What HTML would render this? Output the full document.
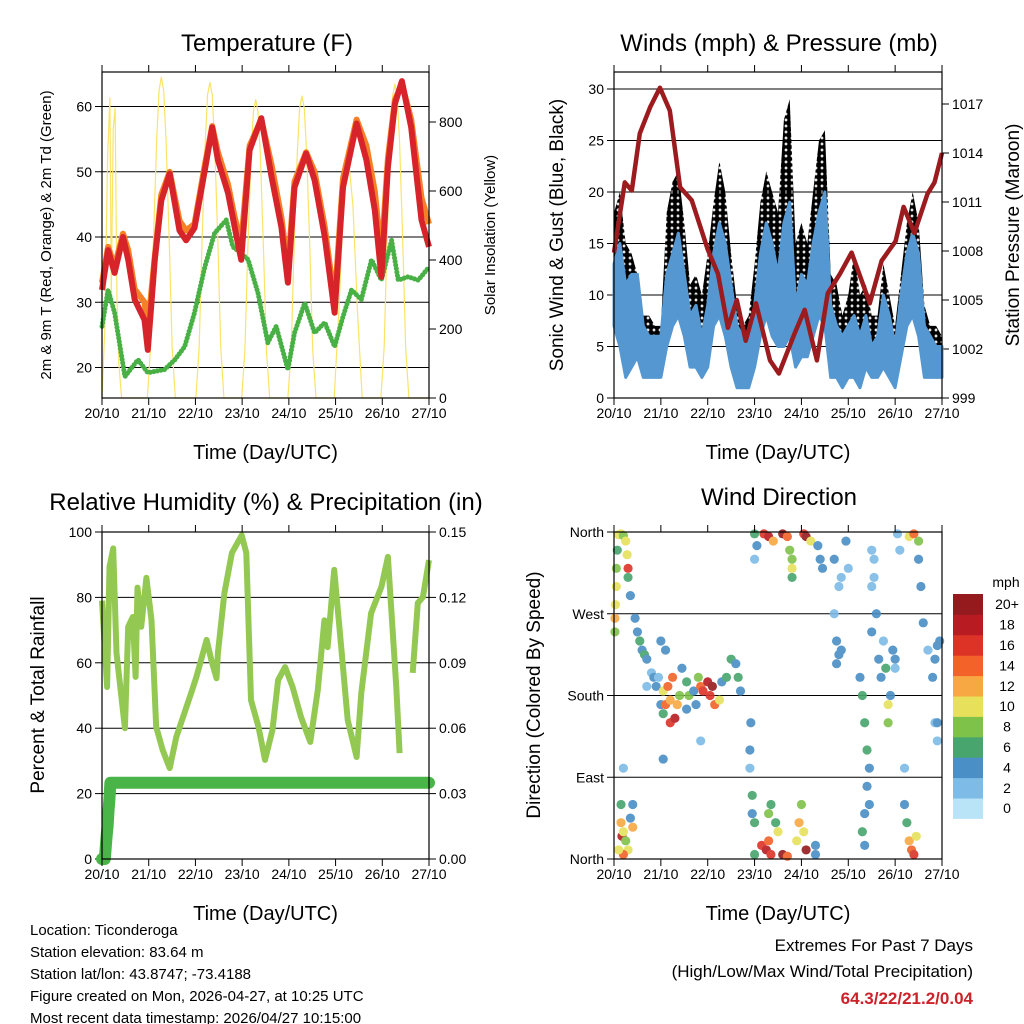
<!DOCTYPE html>
<html><head><meta charset="utf-8"><style>
html,body{margin:0;padding:0;background:#fff;}
svg{display:block;font-family:"Liberation Sans",sans-serif;}
</style></head><body>
<svg id="chart" width="1024" height="1024" viewBox="0 0 1024 1024" xmlns="http://www.w3.org/2000/svg">
<defs>
<pattern id="gustdots" patternUnits="userSpaceOnUse" width="6" height="6">
<circle cx="3" cy="3" r="3.1" fill="#000"/>
</pattern>
</defs>
</svg>
<script>
// ---------- DATA ----------
const dayLabels = ["20/10","21/10","22/10","23/10","24/10","25/10","26/10","27/10"];
// Temperature (F)
const tempT = [0,0.13,0.27,0.45,0.56,0.7,0.91,0.98,1.13,1.27,1.45,1.66,1.8,1.98,2.2,2.36,2.48,2.7,2.84,2.98,3.16,3.41,3.63,3.84,3.98,4.12,4.37,4.55,4.77,4.98,5.16,5.45,5.66,5.84,5.98,6.12,6.27,6.42,6.62,6.84,7.0];
const tempRed = [31.9,38,34.5,40,36.5,30.4,27.3,22.7,36.5,45.6,49.7,41,39.5,41.4,50.2,56.8,51.8,46.7,41.5,36.5,53.3,58.2,49.2,41.5,33,47.6,52.8,48.7,40,28.4,47.6,57.4,51.8,44.1,33.9,50.7,60.4,63.9,56.8,42.6,38.5];
const tempOrange = [33,38.5,35.5,40.5,38,32,30,26,37,46.5,50,42.5,41,42,51,57,53,48,43,39,54,58,51,43,35,48.5,53,50,41.5,30,49,58,54,47,37,52,61,63.5,58,46,42];
const dewT = [0,0.13,0.27,0.49,0.77,0.98,1.34,1.56,1.77,1.98,2.2,2.41,2.66,2.8,2.98,3.13,3.34,3.55,3.73,3.98,4.12,4.34,4.55,4.77,4.98,5.16,5.34,5.55,5.77,5.98,6.2,6.34,6.55,6.77,7.0];
const dewVals = [26.3,31.9,28.4,18.6,21.2,19.2,19.7,21.2,23.2,28.4,35.4,40.6,42.6,38.5,37.5,36.5,31.4,23.8,26.3,19.7,25.3,29.9,25.3,26.9,23.2,27.8,31.9,30.4,36.5,33.4,39.5,33.4,33.9,33.4,35.4];
const solarT = [0,0.06,0.12,0.17,0.2,0.24,0.28,0.32,0.36,0.42,0.5,0.97,1.04,1.1,1.17,1.22,1.27,1.32,1.37,1.44,1.5,1.57,2.01,2.08,2.14,2.21,2.26,2.31,2.36,2.41,2.48,2.54,2.61,2.99,3.06,3.12,3.19,3.24,3.29,3.34,3.39,3.46,3.52,3.59,3.98,4.05,4.11,4.18,4.23,4.28,4.33,4.38,4.45,4.51,4.58,4.97,5.07,5.17,5.27,5.37,5.47,5.57,5.97,6.04,6.1,6.17,6.22,6.27,6.32,6.37,6.44,6.5,6.57,7.0];
const solarV = [0,200,700,870,300,780,840,300,100,0,0,0,150,450,750,890,930,890,750,450,150,0,0,150,450,740,880,915,880,740,450,150,0,0,140,420,700,830,865,830,700,420,140,0,0,140,430,710,840,875,840,710,430,140,0,0,250,560,700,560,250,0,0,150,450,740,875,910,875,740,450,150,0,0];
// Winds (mph) & pressure (mb), 3-hourly
const windT = [0,0.125,0.25,0.375,0.5,0.625,0.75,0.875,1,1.125,1.25,1.375,1.5,1.625,1.75,1.875,2,2.125,2.25,2.375,2.5,2.625,2.75,2.875,3,3.125,3.25,3.375,3.5,3.625,3.75,3.875,4,4.125,4.25,4.375,4.5,4.625,4.75,4.875,5,5.125,5.25,5.375,5.5,5.625,5.75,5.875,6,6.125,6.25,6.375,6.5,6.625,6.75,6.875,7];
const windHi = [13,15,11,12,12,7,6,6,6,12,14,16,12,8,9,6,9,14,17,15,11,7,6,6,9,14,17,15,12,17,19,9,12,11,15,18,20,9,7,6,7,8,6,8,5,6,10,8,5,10,14,16,14,7,6,5,5];
const windLo = [7,5,2,3,4,2,2,2,2,5,7,8,6,3,3,2,3,7,8,6,3,1,1,1,3,6,8,6,5,5,6,3,4,4,6,8,7,2,2,1,2,2,1,3,2,2,3,2,1,4,7,8,6,2,2,2,2];
const gustVals = [18,20,15,14,12,8,8,7,7,18,21,22,17,11,12,10,14,19,23,20,14,9,7,8,13,19,22,20,18,27,29,15,17,15,20,25,26,12,11,8,10,14,10,11,8,8,13,10,7,12,17,20,17,9,7,7,6];
const presT = [0,0.23,0.38,0.55,0.77,0.98,1.19,1.41,1.66,2.0,2.22,2.43,2.62,2.81,3.03,3.33,3.52,3.86,4.07,4.33,4.56,4.82,5.07,5.46,5.71,6.01,6.18,6.41,6.69,6.84,7.0];
const presVals = [1007.9,1012.2,1011.7,1015.2,1016.8,1018,1016.6,1011.9,1011.1,1008.1,1006.6,1003.3,1005,1002.5,1004.8,1001.3,1000.5,1003,1004.4,1001.3,1005.4,1006.6,1007.9,1004.8,1007.4,1008.6,1010.7,1009.1,1011.5,1012.2,1014];
// Relative humidity & precip
const rhT = [0,0.11,0.16,0.24,0.31,0.49,0.56,0.66,0.72,0.76,0.84,0.95,1.06,1.16,1.3,1.45,1.59,1.91,1.91,2.02,2.24,2.34,2.45,2.48,2.62,2.78,2.99,3.09,3.19,3.35,3.49,3.65,3.77,3.92,4.08,4.26,4.46,4.62,4.76,4.83,4.97,5.12,5.26,5.45,5.55,5.76,5.98,6.12,6.3,6.37];
const rhVals = [79,52.6,89.3,95,63,40,71,74,55.7,83,71,86,73,40.4,33.3,27.8,37.3,50.8,50.8,55.7,67,60.9,55.3,63,81.3,93.6,99,93.6,48.6,40.4,30.3,39.5,54.7,58.7,52.6,43.4,35.8,51.7,73,64.8,88.4,64.8,42.5,31.2,50.8,75.2,83.2,92.4,52.6,32.4];
const rh2T = [6.65,6.76,6.87,7.0];
const rh2Vals = [56.9,78.3,80.1,91.4];
const precipT = [0,0.03,0.06,0.1,0.12,0.14,0.16,0.18,1,2,3,4,5,6,7];
const precipVals = [0,0,0,0.011,0.015,0.022,0.028,0.035,0.035,0.035,0.035,0.035,0.035,0.035,0.035];
// Wind direction scatter: time (days), direction (deg), speed (mph)
const dirT = [0.02,0.02,0.03,0.05,0.05,0.07,0.1,0.15,0.2,0.25,0.28,0.3,0.3,0.35,0.45,0.5,0.55,0.6,0.65,0.7,0.8,0.85,0.9,0.15,0.15,0.17,0.2,0.25,0.3,0.35,0.4,0.4,0.2,0.1,0.2,1.0,1.05,1.05,1.1,1.15,1.2,1.2,1.3,1.35,1.25,1.4,1.45,1.55,1.6,1.55,1.7,1.75,1.8,1.85,1.9,2.0,2.1,2.05,2.15,2.25,2.3,2.4,2.5,2.6,2.65,2.7,1.0,1.1,0.95,1.05,1.85,0.7,2.9,2.9,2.92,2.95,2.95,3.0,3.0,3.05,3.0,3.0,3.15,3.25,3.3,3.35,3.3,3.35,3.45,3.5,3.6,3.7,3.9,3.95,4.0,4.05,4.1,4.3,4.3,3.2,3.3,3.4,3.6,3.7,3.75,3.8,3.8,3.8,4.05,4.1,4.2,4.35,4.4,4.45,4.7,4.75,4.8,4.75,4.85,4.7,4.8,4.85,4.95,5.0,5.25,5.3,5.35,5.4,5.45,5.4,5.35,5.3,5.35,5.45,5.5,5.5,5.55,5.6,5.65,5.7,5.75,5.8,5.85,5.85,5.9,5.95,6.0,6.0,5.55,5.5,6.05,6.1,6.2,6.2,6.25,6.3,6.35,6.4,6.45,6.3,6.4,6.5,6.5,6.55,6.6,6.7,6.8,6.85,6.9,6.95,6.85,6.9,6.9];
const dirVals = [250,265,280,300,320,340,357,358,356,350,335,320,310,290,265,250,240,230,225,220,205,200,190,60,40,25,30,20,10,45,60,35,5,10,100,170,160,185,170,190,175,150,155,170,200,180,210,195,180,165,185,170,200,190,185,195,190,180,170,175,195,200,220,215,200,185,240,230,200,110,130,190,120,100,150,70,50,40,358,345,330,5,15,10,20,5,50,60,40,30,5,3,20,40,60,30,10,5,15,358,355,350,358,355,340,330,310,320,358,355,350,345,330,320,270,240,225,215,230,330,300,310,350,320,200,180,150,120,100,80,50,30,15,60,250,300,330,270,220,200,240,210,170,150,180,230,220,210,310,340,358,340,100,60,40,20,10,5,25,355,358,350,330,300,260,230,200,220,235,240,150,130,150];
const dirSpeed = [8,12,10,10,8,6,10,9,8,10,10,16,6,4,4,4,6,4,6,4,2,4,4,6,12,18,10,8,10,4,4,12,14,10,2,4,6,10,14,14,12,16,18,12,14,8,4,6,8,4,4,4,8,14,16,18,20,16,14,10,4,6,6,4,6,4,4,4,2,4,2,2,4,2,4,6,4,6,6,4,2,6,16,18,14,16,8,6,6,10,20,14,10,12,8,10,20,4,4,16,18,12,20,14,8,8,6,10,16,20,10,4,4,4,2,4,4,4,4,4,2,2,4,2,4,6,6,6,4,4,4,6,4,4,4,2,2,4,4,4,2,6,10,8,4,4,4,2,2,2,2,2,2,4,6,12,14,16,10,10,14,8,4,4,4,2,4,4,4,4,2,2,4];
const speedBinLabels = ["0","2","4","6","8","10","12","14","16","18","20+"];
const speedBinColors = ["#b9e3f7","#7ebbe6","#4a8fc6","#47a56d","#7fc24a","#e6e05a","#f8a843","#f26229","#dd3327","#b81c22","#951a1d"];

// ---------- HELPERS ----------
const NS = "http://www.w3.org/2000/svg";
const svg = document.getElementById("chart");
function mk(tag, attrs, parent) {
  const el = document.createElementNS(NS, tag);
  for (const k in attrs) el.setAttribute(k, attrs[k]);
  (parent || svg).appendChild(el);
  return el;
}
function txt(s, x, y, size, anchor, parent, extra) {
  const el = mk("text", Object.assign({x: x, y: y, "font-size": size, "text-anchor": anchor || "middle", fill: "#000"}, extra || {}), parent);
  el.textContent = s;
  return el;
}
function lin(d0, d1, r0, r1) { return v => r0 + (v - d0) / (d1 - d0) * (r1 - r0); }
function pts(xs, ys, fx, fy) { return xs.map((t, i) => fx(t).toFixed(1) + "," + fy(ys[i]).toFixed(1)).join(" "); }

const P = {
  temp: {x0: 102, x1: 429, y0: 72, y1: 398},
  wind: {x0: 614, x1: 942, y0: 72, y1: 398},
  rh:   {x0: 102, x1: 429, y0: 532, y1: 859},
  dir:  {x0: 614, x1: 942, y0: 532, y1: 859}
};

function frame(p, name) {
  const g = mk("g", {});
  
  
  return g;
}
function border(p, g, name) {
  const r = mk("rect", {x: p.x0, y: p.y0, width: p.x1 - p.x0, height: p.y1 - p.y0, fill: "none", stroke: "#000", "stroke-width": 1.2}, g);
  
  
}
function xAxis(p, g, fx, name) {
  const ax = mk("g", {}, g);
  
  
  dayLabels.forEach((lab, i) => {
    const x = fx(i);
    mk("line", {x1: x, y1: p.y1, x2: x, y2: p.y1 + 7, stroke: "#000", "stroke-width": 1}, ax);
    mk("line", {x1: x, y1: p.y0, x2: x, y2: p.y0 - 7, stroke: "#000", "stroke-width": 1}, ax);
    const t = txt(lab, x, p.y1 + 20, 14, "middle", ax);
    
    
  });
  const tt = txt("Time (Day/UTC)", (p.x0 + p.x1) / 2, p.y1 + 61, 20, "middle", ax);
  
  
}
function yTicks(p, g, vals, labels, fy, side, name, grid) {
  const ax = mk("g", {}, g);
  
  
  vals.forEach((v, i) => {
    const y = fy(v);
    if (grid) mk("line", {x1: p.x0, y1: y, x2: p.x1, y2: y, stroke: "#000", "stroke-width": 1}, ax);
    if (side === "left") {
      mk("line", {x1: p.x0 - 7, y1: y, x2: p.x0, y2: y, stroke: "#000"}, ax);
      const t = txt(labels[i], p.x0 - 10, y + 5, 14, "end", ax);
      
      
    } else {
      mk("line", {x1: p.x1, y1: y, x2: p.x1 + 7, y2: y, stroke: "#000"}, ax);
      const t = txt(labels[i], p.x1 + 10, y + 5, 14, "start", ax);
      
      
    }
  });
}
function vTitle(s, x, y, size, g, name) {
  const t = txt(s, x, y, size, "middle", g, {transform: "rotate(-90 " + x + " " + y + ")"});
  
  
}
function title(s, x, y, g, name) {
  const t = txt(s, x, y, 24, "middle", g);
  
  
}

// ---------- TEMPERATURE ----------
(function () {
  const p = P.temp, g = frame(p, "temperature");
  const fx = lin(0, 7, p.x0, p.x1);
  const fy = lin(20, 60, 367.5, 106.5);
  const fs = lin(0, 800, 398, 122);
  yTicks(p, g, [20, 30, 40, 50, 60], ["20", "30", "40", "50", "60"], fy, "left", "temperature-y-axis", true);
  yTicks(p, g, [0, 200, 400, 600, 800], ["0", "200", "400", "600", "800"], fs, "right", "solar-y-axis", false);
  const sol = mk("polyline", {points: pts(solarT, solarV, fx, fs), fill: "none", stroke: "#f9e467", "stroke-width": 1.2, "stroke-linejoin": "round"}, g);
  
  
  const dew = mk("polyline", {points: pts(dewT, dewVals, fx, fy), fill: "none", stroke: "#48b045", "stroke-width": 5, "stroke-linejoin": "round", "stroke-linecap": "round", "stroke-dasharray": "0.1 3.5"}, g);
  
  
  const or = mk("polyline", {points: pts(tempT, tempOrange, fx, fy), fill: "none", stroke: "#f58025", "stroke-width": 6, "stroke-linejoin": "round"}, g);
  
  
  const rd = mk("polyline", {points: pts(tempT, tempRed, fx, fy), fill: "none", stroke: "#d7242a", "stroke-width": 6, "stroke-linejoin": "round"}, g);
  
  
  border(p, g, "temperature");
  xAxis(p, g, fx, "temperature");
  title("Temperature (F)", 267, 51, g, "temperature-title");
  vTitle("2m & 9m T (Red, Orange) & 2m Td (Green)", 51, 235, 15, g, "temperature-y-axis-title");
  vTitle("Solar Insolation (Yellow)", 495, 235, 15, g, "solar-y-axis-title");
})();

// ---------- WINDS ----------
(function () {
  const p = P.wind, g = frame(p, "winds");
  const fx = lin(0, 7, p.x0, p.x1);
  const fy = lin(0, 30, 398, 89);
  const fp = lin(999, 1017, 398, 104);
  yTicks(p, g, [0, 5, 10, 15, 20, 25, 30], ["0", "5", "10", "15", "20", "25", "30"], fy, "left", "wind-y-axis", true);
  yTicks(p, g, [999, 1002, 1005, 1008, 1011, 1014, 1017], ["999", "1002", "1005", "1008", "1011", "1014", "1017"], fp, "right", "pressure-y-axis", false);
  const gustPoly = pts(windT, gustVals, fx, fy) + " " + pts(windT.slice().reverse(), windLo.slice().reverse(), fx, fy);
  const gp = mk("polygon", {points: gustPoly, fill: "url(#gustdots)", stroke: "none"}, g);
  
  
  const bluePoly = pts(windT, windHi, fx, fy) + " " + pts(windT.slice().reverse(), windLo.slice().reverse(), fx, fy);
  const bp = mk("polygon", {points: bluePoly, fill: "#5597d0", stroke: "#5597d0", "stroke-width": 3, "stroke-linejoin": "round"}, g);
  
  
  const pr = mk("polyline", {points: pts(presT, presVals, fx, fp), fill: "none", stroke: "#9b1b1e", "stroke-width": 4.5, "stroke-linejoin": "round"}, g);
  
  
  border(p, g, "winds");
  xAxis(p, g, fx, "winds");
  title("Winds (mph) & Pressure (mb)", 779, 51, g, "winds-title");
  vTitle("Sonic Wind & Gust (Blue, Black)", 563, 235, 19, g, "wind-y-axis-title");
  vTitle("Station Pressure (Maroon)", 1019, 235, 19, g, "pressure-y-axis-title");
})();

// ---------- RELATIVE HUMIDITY ----------
(function () {
  const p = P.rh, g = frame(p, "humidity");
  const fx = lin(0, 7, p.x0, p.x1);
  const fy = lin(0, 100, 859, 532);
  const fr = lin(0, 0.15, 859, 532);
  yTicks(p, g, [0, 20, 40, 60, 80, 100], ["0", "20", "40", "60", "80", "100"], fy, "left", "humidity-y-axis", true);
  yTicks(p, g, [0, 0.03, 0.06, 0.09, 0.12, 0.15], ["0.00", "0.03", "0.06", "0.09", "0.12", "0.15"], fr, "right", "precip-y-axis", false);
  const rh = mk("polyline", {points: pts(rhT, rhVals, fx, fy), fill: "none", stroke: "#93c952", "stroke-width": 6, "stroke-linejoin": "round"}, g);
  
  
  const rh2 = mk("polyline", {points: pts(rh2T, rh2Vals, fx, fy), fill: "none", stroke: "#93c952", "stroke-width": 6, "stroke-linejoin": "round"}, g);
  
  
  const pr = mk("polyline", {points: pts(precipT, precipVals, fx, fr), fill: "none", stroke: "#49b447", "stroke-width": 12, "stroke-linecap": "round", "stroke-linejoin": "round"}, g);
  
  
  border(p, g, "humidity");
  xAxis(p, g, fx, "humidity");
  title("Relative Humidity (%) & Precipitation (in)", 266, 510, g, "humidity-title");
  vTitle("Percent & Total Rainfall", 44, 695, 19, g, "humidity-y-axis-title");
})();

// ---------- WIND DIRECTION ----------
(function () {
  const p = P.dir, g = frame(p, "wind-direction");
  const fx = lin(0, 7, p.x0, p.x1);
  const fy = lin(0, 360, 859, 532);
  yTicks(p, g, [0, 90, 180, 270, 360], ["North", "East", "South", "West", "North"], fy, "left", "direction-y-axis", true);
  const sg = mk("g", {opacity: 0.9}, g);
  
  
  dirT.forEach((t, i) => {
    const bin = Math.min(10, Math.round(dirSpeed[i] / 2));
    const c = mk("circle", {cx: fx(t), cy: fy(dirVals[i]), r: 4.6, fill: speedBinColors[bin]}, sg);
    
    
  });
  border(p, g, "wind-direction");
  xAxis(p, g, fx, "wind-direction");
  title("Wind Direction", 779, 505, g, "wind-direction-title");
  vTitle("Direction (Colored By Speed)", 540, 695, 19, g, "direction-y-axis-title");
  const cb = mk("g", {}, g);
  
  
  const cbTop = 594, cbH = 20.4;
  const u = txt("mph", 1006, 587, 14, "middle", cb);
  
  
  speedBinLabels.forEach((lab, i) => {
    const k = speedBinLabels.length - 1 - i;
    const y = cbTop + k * cbH;
    const r = mk("rect", {x: 953, y: y, width: 30, height: cbH + 0.5, fill: speedBinColors[i]}, cb);
    
    
    const t = txt(lab, 1007, y + cbH / 2 + 5, 14, "middle", cb);
    
    
  });
})();

// ---------- FOOTER ----------
(function () {
  const g = mk("g", {});
  
  
  ["Location: Ticonderoga", "Station elevation: 83.64 m", "Station lat/lon: 43.8747; -73.4188",
   "Figure created on Mon, 2026-04-27, at 10:25 UTC", "Most recent data timestamp: 2026/04/27 10:15:00"].forEach((s, i) => {
    const t = txt(s, 30, 935 + i * 22, 15, "start", g);
    
    
  });
  const e = mk("g", {});
  
  
  const a = txt("Extremes For Past 7 Days", 973, 951, 17, "end", e);
  
  
  const b = txt("(High/Low/Max Wind/Total Precipitation)", 973, 977, 17, "end", e);
  
  
  const c = txt("64.3/22/21.2/0.04", 973, 1004, 17, "end", e, {fill: "#cc2229", "font-weight": "bold"});
  
  
})();
</script>
</body></html>
